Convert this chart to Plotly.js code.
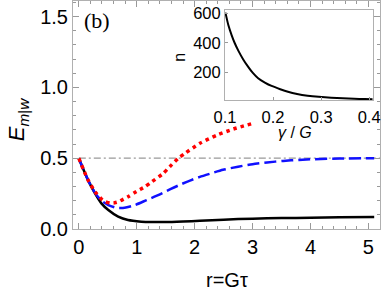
<!DOCTYPE html>
<html>
<head>
<meta charset="utf-8">
<script src="https://cdn.plot.ly/plotly-3.0.1.min.js"></script>
<style>html,body{margin:0;padding:0;background:#fff;}#chart{width:382px;height:292px;}</style>
</head>
<body>
<div id="chart"></div>
<script>
// Main panel data (r = G tau, E_m|w)
const rBlack = [0, 0.08, 0.16, 0.28, 0.39, 0.51, 0.68, 0.85, 1.08, 1.26, 1.5, 1.8, 2.09, 2.5, 3.0, 3.5, 4.0, 4.5, 5.1];
const eBlack = [0.5, 0.42, 0.345, 0.251, 0.181, 0.134, 0.087, 0.063, 0.052, 0.049, 0.049, 0.053, 0.058, 0.066, 0.073, 0.077, 0.08, 0.083, 0.085];

const rBlue = [0, 0.08, 0.16, 0.28, 0.39, 0.51, 0.65, 0.79, 0.97, 1.17, 1.4, 1.6, 1.75, 1.92, 2.09, 2.3, 2.49, 2.75, 3.0, 3.25, 3.53, 3.8, 4.05, 4.5, 5.1];
const eBlue = [0.5, 0.42, 0.345, 0.255, 0.2, 0.169, 0.15, 0.15, 0.169, 0.204, 0.244, 0.285, 0.313, 0.342, 0.368, 0.395, 0.418, 0.44, 0.458, 0.47, 0.481, 0.488, 0.493, 0.497, 0.5];

const rRed = [0, 0.08, 0.16, 0.28, 0.39, 0.45, 0.54, 0.62, 0.68, 0.85, 0.99, 1.14, 1.26, 1.45, 1.57, 1.72, 1.83, 2.09, 2.38, 2.67, 2.99];
const eRed = [0.5, 0.42, 0.345, 0.263, 0.212, 0.195, 0.183, 0.185, 0.192, 0.228, 0.263, 0.298, 0.333, 0.39, 0.44, 0.5, 0.533, 0.605, 0.662, 0.706, 0.744];

const rRef = [0, 5.2];
const eRef = [0.5, 0.5];

// Inset data (gamma/G, n)
const gInset = [0.101, 0.107, 0.114, 0.12, 0.128, 0.138, 0.148, 0.158, 0.169, 0.183, 0.197, 0.215, 0.231, 0.25, 0.272, 0.295, 0.321, 0.345, 0.369, 0.39, 0.407];
const nInset = [604, 520, 450, 400, 345, 287, 238, 195, 159, 130, 107, 85, 68, 53, 41, 33, 27, 23, 20, 18, 16];

// Tick labels
const xTicks = [0, 1, 2, 3, 4, 5];
const yTicks = [0.0, 0.5, 1.0, 1.5];
const yTickText = ['0.0', '0.5', '1.0', '1.5'];
const x2Ticks = [0.1, 0.2, 0.3, 0.4];
const x2TickText = ['0.1', '0.2', '0.3', '0.4'];
const y2Ticks = [200, 400, 600];

const frameCol = '#b0b0b0';
const tickCol = '#999999';
const sans = 'Liberation Sans, Arial, sans-serif';

const traces = [
  {x: rRef, y: eRef, mode: 'lines', line: {color: '#999999', width: 1.2, dash: '7px,3px,2px,3px'}, xaxis: 'x', yaxis: 'y', hoverinfo: 'skip'},
  {x: rBlack, y: eBlack, mode: 'lines', line: {color: '#000000', width: 2.5, shape: 'spline', smoothing: 0.6}, xaxis: 'x', yaxis: 'y'},
  {x: rBlue, y: eBlue, mode: 'lines', line: {color: '#1010ff', width: 2.5, dash: '12px,5px', shape: 'spline', smoothing: 0.6}, xaxis: 'x', yaxis: 'y'},
  {x: rRed, y: eRed, mode: 'lines', line: {color: '#ff0000', width: 3.5, dash: '3.5px,4px', shape: 'spline', smoothing: 0.6}, xaxis: 'x', yaxis: 'y'},
  {x: gInset, y: nInset, mode: 'lines', line: {color: '#000000', width: 2, shape: 'spline', smoothing: 0.6}, xaxis: 'x2', yaxis: 'y2'}
];

const layout = {
  width: 382, height: 292,
  margin: {l: 73, r: 2, t: 1, b: 63, pad: 0},
  paper_bgcolor: '#ffffff', plot_bgcolor: '#ffffff',
  showlegend: false,
  font: {family: sans, color: '#000'},
  xaxis: {
    domain: [0, 1], range: [-0.1, 5.2], anchor: 'y',
    showline: true, linecolor: frameCol, linewidth: 1, mirror: 'allticks',
    ticks: 'inside', ticklen: 6, tickcolor: tickCol, tickwidth: 1,
    tickvals: xTicks, ticktext: xTicks.map(String),
    tickfont: {size: 20, family: sans, color: '#000'},
    minor: {dtick: 0.2, tick0: 0, ticks: 'inside', ticklen: 3, tickcolor: tickCol, showgrid: false},
    showgrid: false, zeroline: false
  },
  yaxis: {
    domain: [0, 1], range: [0, 1.61], anchor: 'x',
    showline: true, linecolor: frameCol, linewidth: 1, mirror: 'allticks',
    ticks: 'inside', ticklen: 6, tickcolor: tickCol, tickwidth: 1,
    tickvals: yTicks, ticktext: yTickText,
    tickfont: {size: 20, family: sans, color: '#000'},
    minor: {dtick: 0.1, tick0: 0, ticks: 'inside', ticklen: 3, tickcolor: tickCol, showgrid: false},
    showgrid: false, zeroline: false
  },
  xaxis2: {
    domain: [0.495, 0.978], range: [0.1, 0.4085], anchor: 'y2',
    showline: true, linecolor: frameCol, linewidth: 1, mirror: true,
    ticks: 'inside', ticklen: 3, tickcolor: tickCol,
    tickvals: x2Ticks, ticktext: x2TickText,
    ticklabelstandoff: 2,
    tickfont: {size: 16.5, family: sans, color: '#000'},
    showgrid: false, zeroline: false
  },
  yaxis2: {
    domain: [0.566, 0.9605], range: [12, 622], anchor: 'x2',
    showline: true, linecolor: frameCol, linewidth: 1, mirror: true,
    ticks: 'inside', ticklen: 3, tickcolor: tickCol,
    tickvals: y2Ticks, ticktext: y2Ticks.map(String),
    tickfont: {size: 16.5, family: sans, color: '#000'},
    showgrid: false, zeroline: false
  },
  annotations: [
    {text: 'r=Gτ', xref: 'paper', yref: 'paper', x: 0.5016, y: -0.224, xanchor: 'center', yanchor: 'middle', showarrow: false, font: {size: 20, family: sans, color: '#000'}},
    {text: '<i>E</i><sub><i>m</i>|<i>w</i></sub>', xref: 'paper', yref: 'paper', x: -0.18, y: 0.48, xanchor: 'center', yanchor: 'middle', textangle: -90, showarrow: false, font: {size: 22, family: sans, color: '#000'}},
    {text: '(b)', xref: 'paper', yref: 'paper', x: 0.078, y: 0.913, xanchor: 'center', yanchor: 'middle', showarrow: false, font: {size: 22, family: 'Liberation Serif, Times New Roman, serif', color: '#000'}},
    {text: 'n', xref: 'paper', yref: 'paper', x: 0.348, y: 0.755, xanchor: 'center', yanchor: 'middle', textangle: -90, showarrow: false, font: {size: 16, family: sans, color: '#000'}},
    {text: '<i>γ</i> / <i>G</i>', xref: 'paper', yref: 'paper', x: 0.722, y: 0.424, xanchor: 'center', yanchor: 'middle', showarrow: false, font: {size: 16, family: sans, color: '#000'}}
  ]
};

Plotly.newPlot('chart', traces, layout, {displayModeBar: false, staticPlot: true});
</script>
</body>
</html>
